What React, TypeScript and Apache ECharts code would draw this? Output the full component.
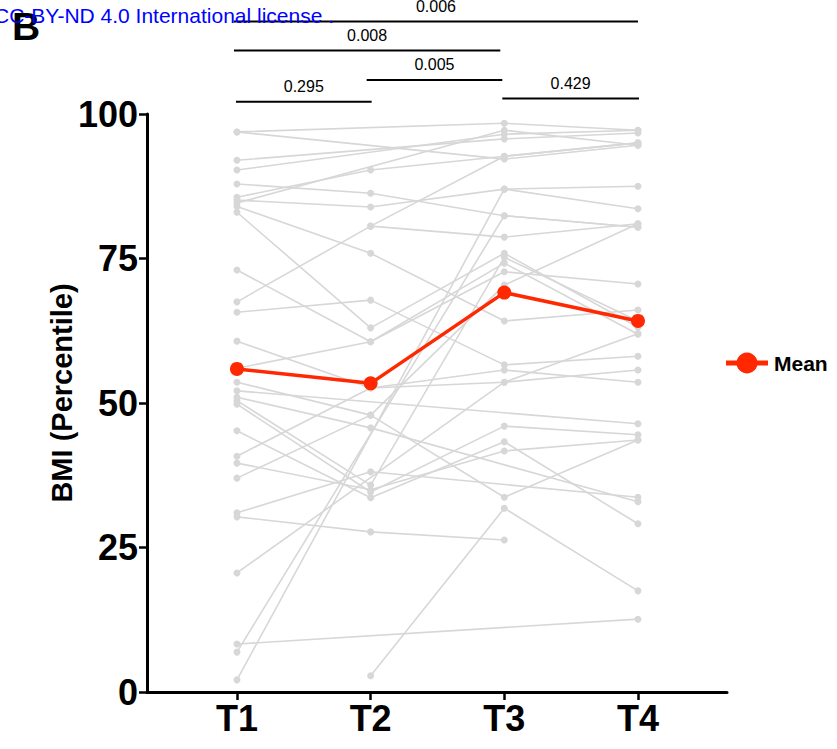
import React, { useEffect, useRef } from "react";
import * as echarts from "echarts";

const CATEGORIES = ["T1", "T2", "T3", "T4"];
const MEAN_VALUES = [55.9, 53.4, 69.1, 64.2];
const Y_MIN = 0;
const Y_MAX = 100;
const Y_INTERVAL = 25;

// individual subjects: values at T1, T2, T3, T4 (null = missing)
const SUBJECTS: (number | null)[][] = [
  [96.9, null, 98.4, 97.2],
  [96.9, null, 92.2, 94.6],
  [92.0, null, 95.7, 96.7],
  [90.3, null, 96.5, 97.2],
  [87.9, 86.3, 82.4, 80.4],
  [85.6, 90.3, 92.7, 95.0],
  [84.6, null, 97.2, 94.6],
  [85.1, 83.9, 87.0, 87.5],
  [67.5, 80.6, 92.7, 95.0],
  [null, 80.6, 78.7, 81.0],
  [84.0, 75.9, 64.2, 66.1],
  [83.0, 63.0, 75.9, 63.1],
  [73.0, 60.6, 74.2, 61.9],
  [65.7, 67.8, 56.6, 58.1],
  [60.7, 52.6, 55.7, 53.6],
  [56.0, 60.6, 72.7, 70.6],
  [53.6, 47.9, 33.7, 43.6],
  [52.1, null, null, 46.4],
  [51.0, 45.7, null, 32.9],
  [50.4, 35.8, 75.2, 64.2],
  [49.8, 34.6, 46.0, 44.5],
  [45.2, 33.6, 43.3, 29.1],
  [40.8, 52.6, 53.6, 55.7],
  [39.6, 35.0, 41.7, 43.6],
  [37.0, 47.9, 70.4, 81.0],
  [31.0, 38.1, null, 33.7],
  [30.3, 27.7, 26.3, null],
  [20.6, null, 53.6, 62.0],
  [8.3, null, null, 12.6],
  [6.9, null, 82.4, 80.4],
  [2.1, null, 87.0, 83.6],
  [null, 2.8, 31.8, 17.5],
];

// comparison brackets: from / to category index, p value, height (axis units)
const BRACKET_FROM = [0, 1, 2, 0, 0];
const BRACKET_TO = [1, 2, 3, 2, 3];
const BRACKET_P = ["0.295", "0.005", "0.429", "0.008", "0.006"];
const BRACKET_LEVEL = [102.1, 105.9, 102.7, 111.0, 116.0];
const BRACKET_SHIFT = [[-1, 1], [-4, -2], [-2, 1], [-3, -4], [-3, 0]];

const FONT = "'Liberation Sans', Arial, Helvetica, sans-serif";
const GREY = "#d7d7d7";
const RED = "#ff2800";

export default function App() {
  const ref = useRef<HTMLDivElement>(null);

  useEffect(() => {
    document.body.style.margin = "0";
    const chart = echarts.init(ref.current!, null, { renderer: "svg" });

    const subjectSeries = SUBJECTS.map((vals, k) => ({
      type: "line",
      name: "S" + (k + 1),
      data: vals
        .map((v, i) => (v === null ? null : [i, v]))
        .filter((d) => d !== null),
      symbol: "circle",
      symbolSize: 7,
      showSymbol: true,
      lineStyle: { color: GREY, width: 1.6 },
      itemStyle: { color: GREY },
      z: 2,
      silent: true,
    }));

    const meanSeries = {
      type: "line",
      name: "Mean",
      data: MEAN_VALUES.map((v, i) => [i, v]),
      symbol: "circle",
      symbolSize: 14,
      lineStyle: { color: RED, width: 3.5 },
      itemStyle: { color: RED },
      z: 5,
    };

    chart.setOption({
      animation: false,
      grid: { left: 147, right: 110, top: 114, bottom: 57, containLabel: false },
      xAxis: {
        type: "value",
        min: -0.673,
        max: 3.666,
        splitLine: { show: false },
        axisLine: { show: true, onZero: false, lineStyle: { color: "#000", width: 3 } },
        axisTick: {
          show: true,
          customValues: [0, 1, 2, 3],
          length: 8,
          lineStyle: { color: "#000", width: 2.5 },
        },
        axisLabel: {
          customValues: [0, 1, 2, 3],
          formatter: (v: number) => CATEGORIES[Math.round(v)] ?? "",
          color: "#000",
          fontFamily: FONT,
          fontWeight: "bold",
          fontSize: 36,
          margin: 8,
        },
      },
      yAxis: {
        type: "value",
        min: Y_MIN,
        max: Y_MAX,
        interval: Y_INTERVAL,
        splitLine: { show: false },
        axisLine: { show: true, onZero: false, lineStyle: { color: "#000", width: 3 } },
        axisTick: { show: true, length: 8, lineStyle: { color: "#000", width: 2.5 } },
        axisLabel: {
          color: "#000",
          fontFamily: FONT,
          fontWeight: "bold",
          fontSize: 36,
          margin: 9,
        },
      },
      series: [...subjectSeries, meanSeries],
    });

    const graphics: any[] = [];
    for (let b = 0; b < BRACKET_P.length; b++) {
      const x1 = chart.convertToPixel({ xAxisIndex: 0 }, BRACKET_FROM[b]) + BRACKET_SHIFT[b][0];
      const x2 = chart.convertToPixel({ xAxisIndex: 0 }, BRACKET_TO[b]) + BRACKET_SHIFT[b][1];
      const y = chart.convertToPixel({ yAxisIndex: 0 }, BRACKET_LEVEL[b]);
      graphics.push({
        type: "line",
        shape: { x1, y1: y, x2, y2: y },
        style: { stroke: "#000", lineWidth: 2 },
        silent: true,
      });
      graphics.push({
        type: "text",
        x: (x1 + x2) / 2,
        y: y - 15,
        style: {
          text: BRACKET_P[b],
          font: `16px ${FONT}`,
          fill: "#000",
          align: "center",
          verticalAlign: "middle",
        },
        silent: true,
      });
    }

    // Y axis title
    graphics.push({
      type: "text",
      x: 62,
      y: 393,
      rotation: Math.PI / 2,
      style: {
        text: "BMI (Percentile)",
        font: `bold 29px ${FONT}`,
        fill: "#000",
        align: "center",
        verticalAlign: "middle",
      },
      silent: true,
    });

    // Legend
    graphics.push({
      type: "line",
      shape: { x1: 726, y1: 363, x2: 768, y2: 363 },
      style: { stroke: RED, lineWidth: 5 },
      silent: true,
    });
    graphics.push({
      type: "circle",
      shape: { cx: 747, cy: 363, r: 10.5 },
      style: { fill: RED },
      silent: true,
    });
    graphics.push({
      type: "text",
      x: 774,
      y: 363,
      style: {
        text: "Mean",
        font: `bold 21px ${FONT}`,
        fill: "#000",
        align: "left",
        verticalAlign: "middle",
      },
      silent: true,
    });

    // Panel letter and license overlay
    graphics.push({
      type: "text",
      x: 12,
      y: 26,
      style: {
        text: "B",
        font: `bold 39px ${FONT}`,
        fill: "#000",
        align: "left",
        verticalAlign: "middle",
      },
      silent: true,
    });
    graphics.push({
      type: "text",
      x: -6,
      y: 15,
      style: {
        text: "CC-BY-ND 4.0 International license .",
        font: `21px ${FONT}`,
        fill: "#0000ff",
        align: "left",
        verticalAlign: "middle",
      },
      silent: true,
    });

    chart.setOption({ graphic: graphics });

    return () => chart.dispose();
  }, []);

  return (
    <div
      ref={ref}
      style={{ position: "fixed", left: 0, top: 0, width: 837, height: 749, background: "#fff" }}
    />
  );
}
